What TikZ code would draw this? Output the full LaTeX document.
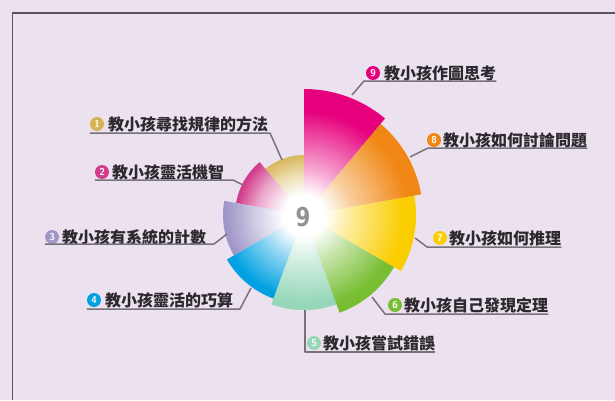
\documentclass[tikz,border=0pt]{standalone}
\usepackage{fontspec}
\newfontfamily\cjk{Noto Sans CJK TC}
\newfontfamily\digitfont{DejaVu Sans}
\usetikzlibrary{calc}
\definecolor{bg}{RGB}{236,225,238}
\definecolor{framec}{RGB}{90,85,92}
\definecolor{leadc}{RGB}{118,114,120}
\definecolor{txtc}{RGB}{45,40,45}
\definecolor{cA}{RGB}{214,178,80}
\definecolor{cB}{RGB}{210,60,140}
\definecolor{cC}{RGB}{160,150,200}
\definecolor{cD}{RGB}{0,160,225}
\definecolor{cE}{RGB}{150,215,185}
\definecolor{cF}{RGB}{120,190,50}
\definecolor{cG}{RGB}{250,205,0}
\definecolor{cH}{RGB}{240,135,20}
\definecolor{cI}{RGB}{230,0,125}
\pgfdeclareradialshading{sh1}{\pgfpoint{0bp}{0bp}}{color(0bp)=(white); color(4bp)=(white); color(8bp)=(cA!45!white); color(12bp)=(cA); color(50bp)=(cA)}
\pgfdeclareradialshading{sh2}{\pgfpoint{0bp}{0bp}}{color(0bp)=(white); color(4bp)=(white); color(9bp)=(cB!45!white); color(13bp)=(cB); color(50bp)=(cB)}
\pgfdeclareradialshading{sh3}{\pgfpoint{0bp}{0bp}}{color(0bp)=(white); color(4bp)=(white); color(9bp)=(cC!45!white); color(15bp)=(cC); color(50bp)=(cC)}
\pgfdeclareradialshading{sh4}{\pgfpoint{0bp}{0bp}}{color(0bp)=(white); color(4bp)=(white); color(9bp)=(cD!45!white); color(16bp)=(cD); color(50bp)=(cD)}
\pgfdeclareradialshading{sh5}{\pgfpoint{0bp}{0bp}}{color(0bp)=(white); color(4bp)=(white); color(9bp)=(cE!45!white); color(17bp)=(cE); color(50bp)=(cE)}
\pgfdeclareradialshading{sh6}{\pgfpoint{0bp}{0bp}}{color(0bp)=(white); color(4bp)=(white); color(9bp)=(cF!40!white); color(18bp)=(cF); color(50bp)=(cF)}
\pgfdeclareradialshading{sh7}{\pgfpoint{0bp}{0bp}}{color(0bp)=(white); color(4bp)=(white); color(9bp)=(cG!40!white); color(19bp)=(cG); color(50bp)=(cG)}
\pgfdeclareradialshading{sh8}{\pgfpoint{0bp}{0bp}}{color(0bp)=(white); color(4bp)=(white); color(9bp)=(cH!40!white); color(20bp)=(cH); color(50bp)=(cH)}
\pgfdeclareradialshading{sh9}{\pgfpoint{0bp}{0bp}}{color(0bp)=(white); color(4bp)=(white); color(9bp)=(cI!35!white); color(20bp)=(cI); color(50bp)=(cI)}
\tikzset{
  leader/.style={draw=leadc, line width=1.5pt, line join=round},
  numdot/.style={circle, inner sep=0pt, minimum size=14pt, text=white,
    font=\sffamily\bfseries\fontsize{10}{10}\selectfont},
  lbl/.style={anchor=west, inner sep=0pt, text=txtc,
    font=\cjk\bfseries\fontsize{16}{16}\selectfont},
}
\begin{document}
\begin{tikzpicture}[x=1pt,y=1pt]
\useasboundingbox (0,0) rectangle (615,400);
\fill[bg] (0,0) rectangle (615,400);
\draw[framec, line width=1.6pt] (12.5,0) -- (12.5,387) -- (615,387);
\coordinate (C) at (304,185);
\foreach \i/\r in {1/60,2/69,3/81,4/89,5/95,6/104,7/112,8/119,9/126}{
  \pgfmathsetmacro\aS{90+40*(\i-1)}
  \pgfmathsetmacro\aE{90+40*\i}
  \begin{scope}
    \clip (C) -- ++(\aS:\r) arc[start angle=\aS, end angle=\aE, radius=\r] -- cycle;
    \shade[shading=sh\i] (C) circle (130);
  \end{scope}
}
\node[text={rgb,255:red,145;green,145;blue,150}, font=\digitfont\bfseries\fontsize{26}{26}\selectfont, xscale=0.82] (nine) at (303,183) {9};
% label 9
\node[numdot, fill=cI] (n9) at (373,327) {9};
\node[lbl] (t9) at (384,327) {教小孩作圖思考};
\coordinate (r9) at (352,305); \coordinate (e9) at (364,319);
\draw[leader] (r9) -- (e9) -- (e9 -| t9.east);
% label 8
\node[numdot, fill=cH] (n8) at (434,260) {8};
\node[lbl] (t8) at (443,260) {教小孩如何討論問題};
\coordinate (r8) at (410,243); \coordinate (e8) at (428,252);
\draw[leader] (r8) -- (e8) -- (e8 -| t8.east);
% label 7
\node[numdot, fill=cG] (n7) at (440,162) {7};
\node[lbl] (t7) at (449,162) {教小孩如何推理};
\coordinate (r7) at (415,162); \coordinate (e7) at (427,153);
\draw[leader] (r7) -- (e7) -- (e7 -| t7.east);
% label 6
\node[numdot, fill=cF] (n6) at (395,95) {6};
\node[lbl] (t6) at (404,95) {教小孩自己發現定理};
\coordinate (r6) at (372,103); \coordinate (e6) at (385,86);
\draw[leader] (r6) -- (e6) -- (e6 -| t6.east);
% label 5
\node[numdot, fill=cE] (n5) at (314,57) {5};
\node[lbl] (t5) at (323,57) {教小孩嘗試錯誤};
\coordinate (r5) at (305,90); \coordinate (e5) at (305,48);
\draw[leader] (r5) -- (e5) -- (e5 -| t5.east);
% label 4
\node[numdot, fill=cD] (n4) at (94,100) {4};
\node[lbl] (t4) at (105,100) {教小孩靈活的巧算};
\coordinate (r4) at (251,112); \coordinate (e4) at (240,91);
\draw[leader] (r4) -- (e4) -- (e4 -| n4.west);
% label 3
\node[numdot, fill=cC] (n3) at (52,163) {3};
\node[lbl] (t3) at (62,163) {教小孩有系統的計數};
\coordinate (r3) at (227,166); \coordinate (e3) at (214,156);
\draw[leader] (r3) -- (e3) -- (e3 -| n3.west);
% label 2
\node[numdot, fill=cB] (n2) at (102,228) {2};
\node[lbl] (t2) at (112,228) {教小孩靈活機智};
\coordinate (r2) at (243,215); \coordinate (e2) at (233,220);
\draw[leader] (r2) -- (e2) -- (e2 -| n2.west);
% label 1
\node[numdot, fill=cA] (n1) at (97,276) {1};
\node[lbl] (t1) at (108,276) {教小孩尋找規律的方法};
\coordinate (r1) at (282,240); \coordinate (e1) at (270,267);
\draw[leader] (r1) -- (e1) -- (e1 -| n1.west);
\end{tikzpicture}
\end{document}
